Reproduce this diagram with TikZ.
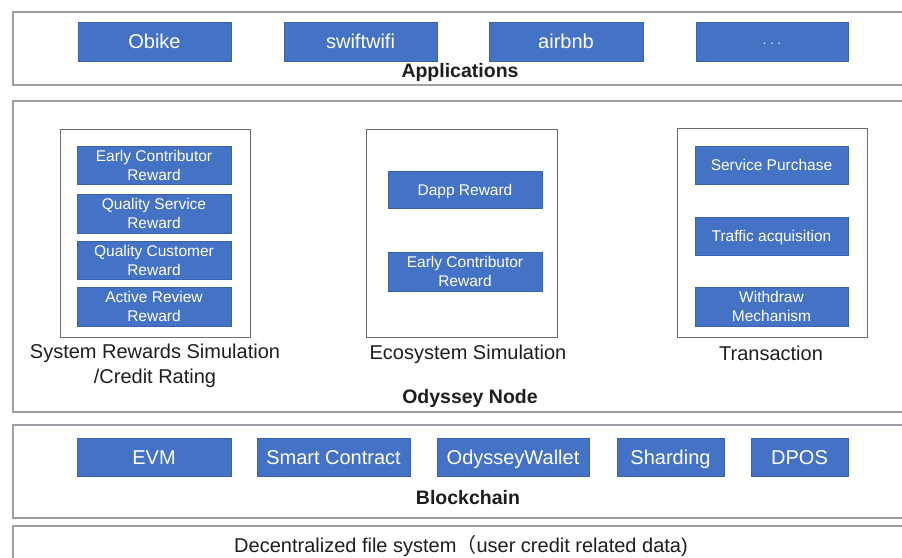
\documentclass[tikz,border=0pt]{standalone}
\usepackage{fontspec}
\setmainfont{Liberation Sans}
\newfontfamily\cjkfont{Noto Sans CJK SC}
\definecolor{boxblue}{HTML}{4472C4}
\definecolor{boxedge}{HTML}{3A62AC}
\definecolor{framegray}{HTML}{9AA0A6}
\definecolor{innergray}{HTML}{6E6E6E}
\definecolor{txt}{HTML}{1E1E1E}
\begin{document}
\begin{tikzpicture}[x=1pt,y=-1pt,
  frame/.style={draw=framegray,line width=1.6pt,fill=white,inner sep=0pt,anchor=north west},
  group/.style={draw=innergray,line width=0.9pt,fill=white,inner sep=0pt},
  bigbox/.style={fill=boxblue,draw=boxedge,line width=0.5pt,text=white,inner sep=0pt,
     minimum height=39pt,text height=14.3pt,text depth=0pt,font=\fontsize{20}{24}\selectfont},
  smallbox/.style={fill=boxblue,draw=boxedge,line width=0.5pt,text=white,inner sep=0pt,
     minimum height=38pt,minimum width=154pt,align=center,font=\fontsize{15.5}{19}\selectfont},
  oneline/.style={text height=11.1pt,text depth=0pt},
  label/.style={text=txt,inner sep=0pt,align=center,font=\fontsize{20}{25}\selectfont},
  title/.style={text=txt,inner sep=0pt,font=\bfseries\fontsize{19.5}{23}\selectfont}]
\useasboundingbox (0,0) rectangle (902,557);
\clip (0,0) rectangle (902,557);
\fill[white] (0,0) rectangle (902,557);

% ---------- Applications ----------
\node[frame,minimum width=900pt,minimum height=73pt] (appframe) at (12,11) {};
\node[bigbox,minimum width=153pt] (obike) at (154.5,41.5) {Obike};
\node[bigbox,minimum width=153pt] (swift) at (360.5,41.5) {swiftwifi};
\node[bigbox,minimum width=154pt] (airbnb) at (566,41.5) {airbnb};
\node[bigbox,minimum width=152pt,font=\fontsize{14}{16}\selectfont,text height=1pt,text depth=0pt] (more) at (772,41.5) {\raisebox{-2pt}{\color{white!80!boxblue}.\hspace{3.5pt}.\hspace{3.5pt}.}};
\node[title] (apps) at (460,72) {Applications};

% ---------- Odyssey Node ----------
\node[frame,minimum width=900pt,minimum height=311pt] (odframe) at (12,100) {};
\node[group,minimum width=190pt,minimum height=208pt] (gleft) at (155,233) {};
\node[group,minimum width=191pt,minimum height=208pt] (gmid) at (461.5,233) {};
\node[group,minimum width=190pt,minimum height=209pt] (gright) at (772,232.5) {};

\node[smallbox] (early1) at (154,165) {Early Contributor\\Reward};
\node[smallbox,minimum height=39pt] (qserv) at (154,213.5) {Quality Service\\Reward};
\node[smallbox] (qcust) at (154,260) {Quality Customer\\Reward};
\node[smallbox,minimum height=39pt] (active) at (154,306.5) {Active Review\\Reward};

\node[smallbox,oneline,minimum height=37pt] (dapp) at (465,189.5) {Dapp Reward};
\node[smallbox,minimum height=39pt] (early2) at (465,271.5) {Early Contributor\\Reward};

\node[smallbox,oneline,minimum width=153pt] (service) at (771.5,165) {Service Purchase};
\node[smallbox,oneline,minimum width=153pt] (traffic) at (771.5,236) {Traffic acquisition};
\node[smallbox,minimum width=153pt,minimum height=39pt] (withdraw) at (771.5,306.5) {Withdraw\\Mechanism};

\node[label] (sysrew) at (155,366) {System Rewards Simulation\\/Credit Rating};
\node[label] (ecosim) at (468,354) {Ecosystem Simulation};
\node[label] (trans) at (771,353) {Transaction};
\node[title] (odyssey) at (470,398) {Odyssey Node};

% ---------- Blockchain ----------
\node[frame,minimum width=900pt,minimum height=93pt] (bcframe) at (12,424) {};
\node[bigbox,minimum width=154pt,minimum height=38pt] (evm) at (154,457) {EVM};
\node[bigbox,minimum width=153pt,minimum height=38pt] (smart) at (333.5,457) {Smart Contract};
\node[bigbox,minimum width=152pt,minimum height=38pt] (wallet) at (513,457) {OdysseyWallet};
\node[bigbox,minimum width=107pt,minimum height=38pt] (shard) at (670.5,457) {Sharding};
\node[bigbox,minimum width=97pt,minimum height=38pt] (dpos) at (799.5,457) {DPOS};
\node[title] (blockchain) at (468,498) {Blockchain};

% ---------- Decentralized file system ----------
\node[frame,minimum width=900pt,minimum height=50pt] (fsframe) at (12,525) {};
\node[label,font=\fontsize{20}{24}\selectfont] (fs) at (461,546) {Decentralized file system{\cjkfont （}user credit related data)};
\end{tikzpicture}
\end{document}
